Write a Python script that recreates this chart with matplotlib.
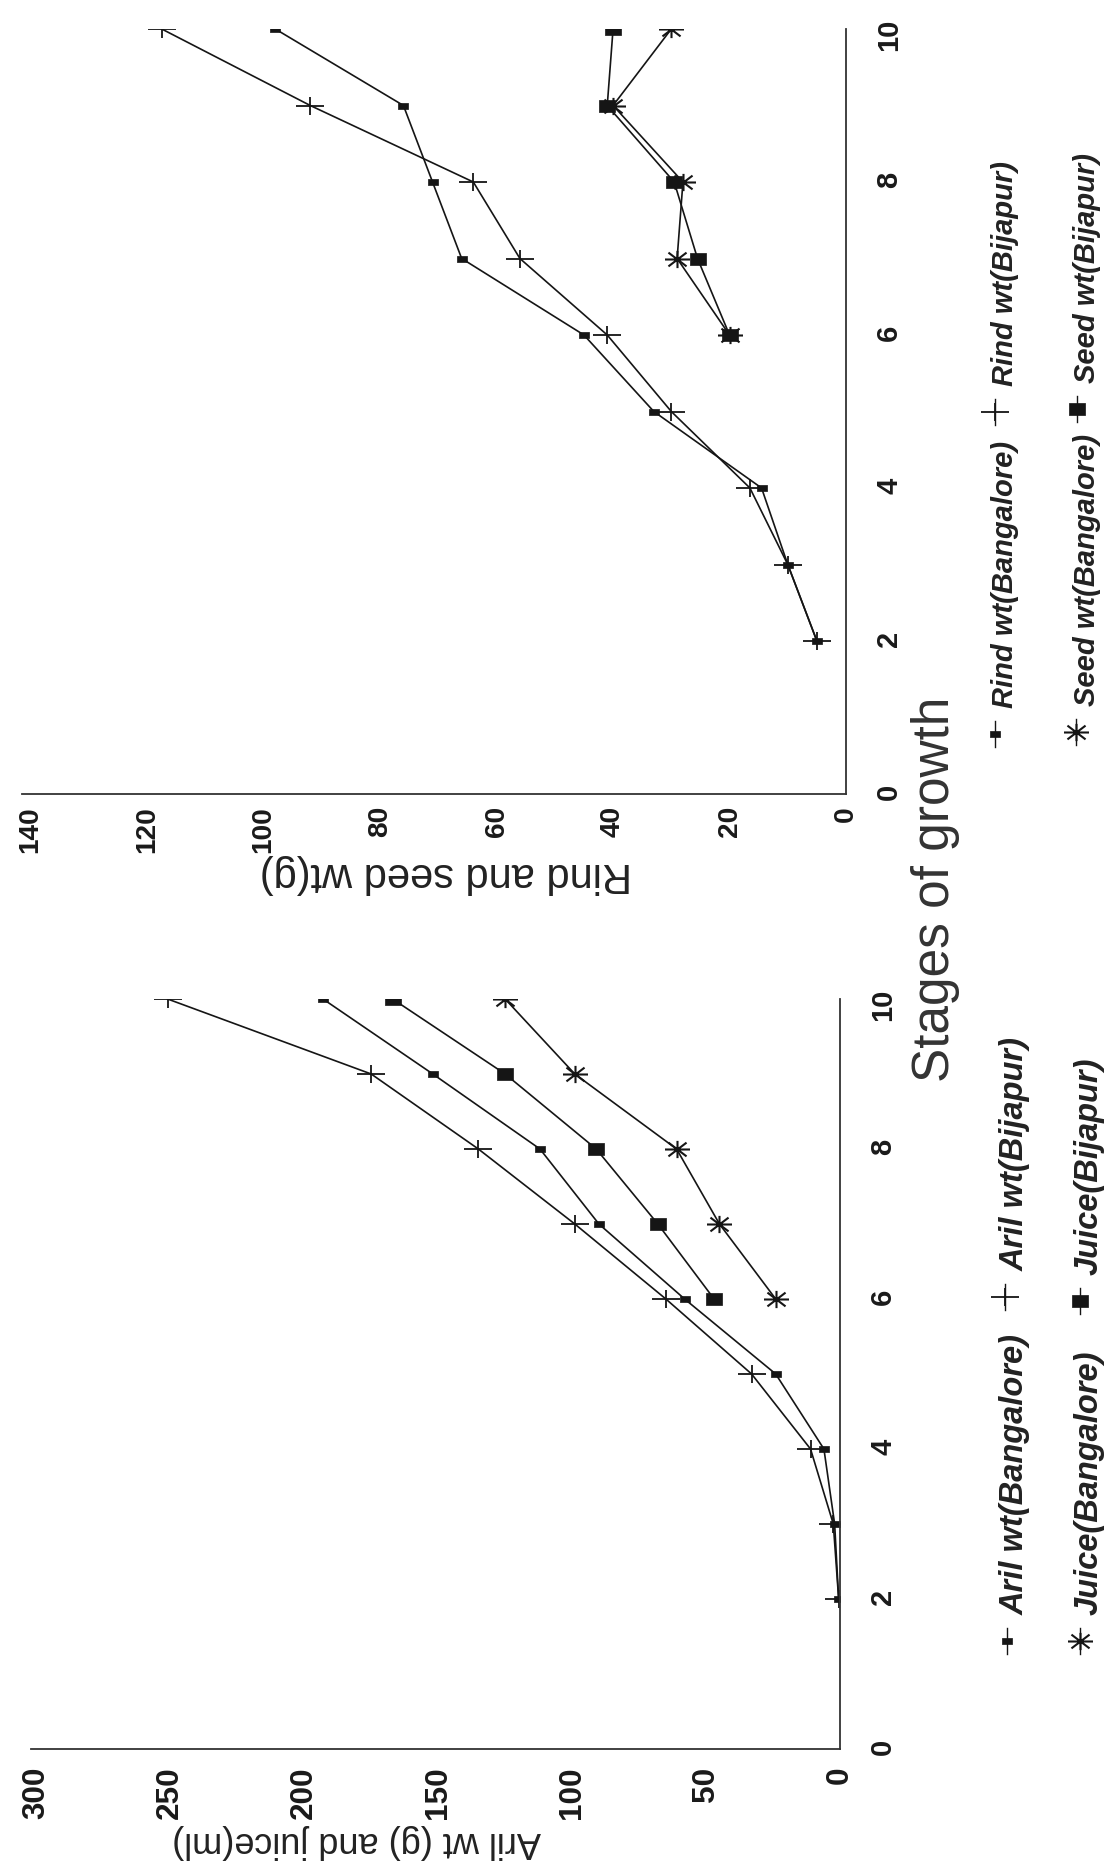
import matplotlib
matplotlib.use('Agg')
import matplotlib.pyplot as plt
from matplotlib.path import Path
from matplotlib.lines import Line2D
from matplotlib import font_manager

# stages of growth (x in the original chart)
stages = [2, 3, 4, 5, 6, 7, 8, 9, 10]
stages_late = [6, 7, 8, 9, 10]

# aril and juice panel
aril_bangalore = [0.5, 2, 6, 24, 58, 90, 112, 152, 193]
aril_bijapur = [0.5, 2.5, 11, 33, 65, 99, 135, 175, 251]
juice_bangalore = [24, 45, 61, 99, 125]
juice_bijapur = [47, 68, 91, 125, 167]
aril_ticks = [0, 50, 100, 150, 200, 250, 300]

# rind and seed panel
rind_bangalore = [5, 10, 14.5, 33, 45, 66, 71, 76, 98]
rind_bijapur = [5, 10, 16.5, 30, 41, 56, 64, 92, 117.5]
seed_bangalore = [20, 29, 28, 40, 30]
seed_bijapur = [20, 25.5, 29.5, 41, 40]
rind_ticks = [0, 20, 40, 60, 80, 100, 120, 140]

stage_ticks = [0, 2, 4, 6, 8, 10]

W, H = 1120, 1865

names = {f.name for f in font_manager.fontManager.ttflist}
if 'Liberation Sans Narrow' in names:
    bold_font = 'Liberation Sans Narrow'
    k = 1.0
else:
    bold_font = 'Liberation Sans'
    k = 0.84
plain_font = 'Liberation Sans'
plt.rcParams['font.family'] = [bold_font, 'DejaVu Sans']

INK = '#151515'


def mk(verts, codes=None):
    return Path(verts, codes)


# marker shapes (the scan is a bit stretched sideways)
M, L = Path.MOVETO, Path.LINETO
plus_m = mk([(-1.5, 0), (1.5, 0), (0, -1), (0, 1)], [M, L, M, L])
star_m = mk([(-1.45, 0), (1.45, 0), (0, -1), (0, 1), (-1.05, -0.8), (1.05, 0.8),
             (-1.05, 0.8), (1.05, -0.8)], [M, L, M, L, M, L, M, L])
rect_m = mk([(-1.4, -1), (1.4, -1), (1.4, 1), (-1.4, 1), (-1.4, -1)])

styles = {
    'bangalore': dict(marker=rect_m, markersize=6.5, mfc=INK, mec=INK, mew=0.5),
    'bijapur': dict(marker=plus_m, markersize=20, mfc='none', mec=INK, mew=1.3),
    'bangalore2': dict(marker=star_m, markersize=18, mfc='none', mec=INK, mew=1.5),
    'bijapur2': dict(marker=rect_m, markersize=12, mfc=INK, mec=INK, mew=0.5),
}


def px(x, y):
    return x / W, 1 - y / H


fig = plt.figure(figsize=(W / 100, H / 100), dpi=100)
fig.patch.set_facecolor('white')

# upper panel: rind and seed
l, t = px(22, 30)
r, b = px(846, 795)
ax1 = fig.add_axes([l, b, r - l, t - b])
# lower panel: aril and juice
l, t = px(31, 1000)
r, b = px(840, 1750)
ax2 = fig.add_axes([l, b, r - l, t - b])

ax1.plot(rind_bangalore, stages, color=INK, lw=1.2, **styles['bangalore'])
ax1.plot(rind_bijapur, stages, color=INK, lw=1.2, **styles['bijapur'])
ax1.plot(seed_bangalore, stages_late, color=INK, lw=1.2, **styles['bangalore2'])
ax1.plot(seed_bijapur, stages_late, color=INK, lw=1.2, **styles['bijapur2'])

ax2.plot(aril_bangalore, stages, color=INK, lw=1.2, **styles['bangalore'])
ax2.plot(aril_bijapur, stages, color=INK, lw=1.2, **styles['bijapur'])
ax2.plot(juice_bangalore, stages_late, color=INK, lw=1.2, **styles['bangalore2'])
ax2.plot(juice_bijapur, stages_late, color=INK, lw=1.2, **styles['bijapur2'])

ax1.set_xlim(141.5, 0)
ax2.set_xlim(302, 0)
for ax, vt, vsize, vpad in [(ax1, rind_ticks, 24, 8), (ax2, aril_ticks, 27, 12)]:
    ax.set_ylim(0, 10)
    ax.set_xticks(vt)
    ax.set_yticks(stage_ticks)
    ax.yaxis.tick_right()
    ax.spines['top'].set_visible(False)
    ax.spines['left'].set_visible(False)
    ax.spines['bottom'].set_linewidth(1.3)
    ax.spines['right'].set_linewidth(1.3)
    ax.spines['bottom'].set_color('#333333')
    ax.spines['right'].set_color('#333333')
    ax.tick_params(axis='x', length=0, pad=vpad, labelrotation=90, labelsize=vsize * k)
    ax.tick_params(axis='y', length=0, pad=21, labelrotation=90, labelsize=25 * k)
    for lab in ax.get_xticklabels() + ax.get_yticklabels():
        lab.set_fontweight('bold')
        lab.set_color('#1a1a1a')
    ax.patch.set_alpha(0)

# value-axis titles (upside down, as in the scan)
ax1.set_xlabel('Rind and seed wt(g)', family=plain_font, fontsize=30,
               rotation=180, color='#222222')
ax1.xaxis.set_label_coords((446 - 22) / 824, (795 - 874) / 765)
ax2.set_xlabel('Aril wt (g) and juice(ml)', family=plain_font, fontsize=26,
               rotation=180, color='#222222')
ax2.xaxis.set_label_coords((357 - 31) / 809, (1750 - 1842) / 750)
for ax in (ax1, ax2):
    ax.xaxis.label.set_va('center')
    ax.xaxis.label.set_ha('center')

fig.text(*px(936, 889), 'Stages of growth', family=plain_font, fontsize=37,
         rotation=90, ha='center', va='center', color='#333333')


# legends, written sideways like the rest of the page
def key(x, y, style, label, tx, size):
    xf, yf = px(x, y)
    y0 = px(x, y - 13)[1]
    y1 = px(x, y + 13)[1]
    fig.add_artist(Line2D([xf, xf], [y0, y1], transform=fig.transFigure,
                          color=INK, lw=1.0))
    fig.add_artist(Line2D([xf], [yf], transform=fig.transFigure, lw=0,
                          **styles[style]))
    fig.text(*px(tx, y - 27), label, rotation=90, rotation_mode='anchor',
             ha='left', va='center', fontsize=size * k, fontweight='bold',
             fontstyle='italic', color='#222222')


key(995, 735, 'bangalore', 'Rind wt(Bangalore)', 1005, 25)
key(995, 413, 'bijapur', 'Rind wt(Bijapur)', 1005, 25)
key(1076, 733, 'bangalore2', 'Seed wt(Bangalore)', 1087, 25)
key(1077, 410, 'bijapur2', 'Seed wt(Bijapur)', 1087, 25)

key(1007, 1642, 'bangalore', 'Aril wt(Bangalore)', 1015, 28)
key(1005, 1298, 'bijapur', 'Aril wt(Bijapur)', 1015, 28)
key(1080, 1642, 'bangalore2', 'Juice(Bangalore)', 1089, 28)
key(1080, 1302, 'bijapur2', 'Juice(Bijapur)', 1089, 28)

fig.savefig('out.png', dpi=100, facecolor='white')
